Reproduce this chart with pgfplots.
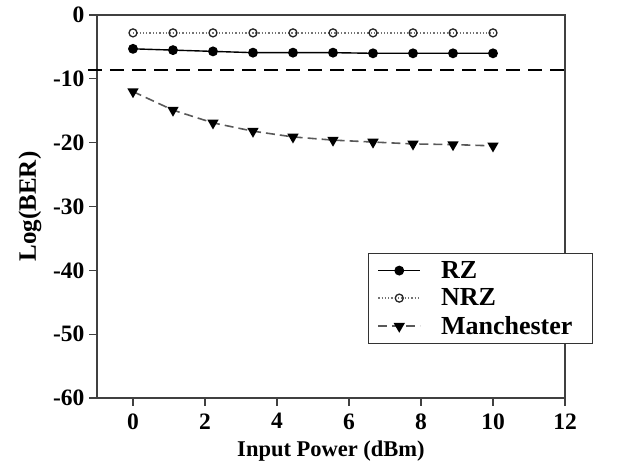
\documentclass[border=0pt]{standalone}
\usepackage{fontspec}
\setmainfont{Liberation Serif}
\usepackage{pgfplots}
\pgfplotsset{compat=1.18}
\begin{document}
\begin{tikzpicture}[x=1pt,y=1pt]
\begin{axis}[
  scale only axis, width=468pt, height=383pt,
  at={(0,0)}, anchor=south west,
  xmin=-1, xmax=12, ymin=-60, ymax=0,
  xtick={0,2,...,12}, ytick={-60,-50,...,0},
  tick align=outside, major tick length=8pt,
  tick style={black!75, line width=1.2pt},
  axis line style={black!75, line width=1.3pt},
  xtick pos=bottom, ytick pos=left,
  /pgf/number format/assume math mode=true,
  ticklabel style={font=\fontsize{23.5}{26}\selectfont\bfseries},
  xticklabel style={yshift=-4pt},
  yticklabel style={xshift=-1pt},
  xlabel={Input Power (dBm)}, ylabel={Log(BER)},
  xlabel style={font=\fontsize{22.5}{24}\selectfont\bfseries, yshift=-5pt},
  ylabel style={font=\fontsize{25}{27}\selectfont\bfseries, yshift=5pt},
  clip=false,
  legend cell align=left,
  legend style={at={(0.579,0.379)}, anchor=north west, draw=black!80, line width=1pt,
    font=\fontsize{26}{30}\selectfont\bfseries, inner xsep=9pt, inner ysep=6pt,
    row sep=5pt, nodes={inner ysep=2pt},
    /tikz/every odd column/.append style={column sep=18pt}},
  legend image code/.code={\draw[#1] (0pt,0pt) -- (42pt,0pt); \draw[#1,solid] plot coordinates {(21pt,0pt)};},
]
\addplot[black, line width=1.4pt, mark=*, mark size=4.2pt, mark options={fill=black}]
 coordinates {(0,-5.3) (1.111,-5.5) (2.222,-5.7) (3.333,-5.9) (4.444,-5.9) (5.556,-5.9) (6.667,-6.0) (7.778,-6.0) (8.889,-6.0) (10,-6.0)};
\addlegendentry{RZ}
\addplot[black!55, line width=1.3pt, dotted, mark=o, mark size=4pt, mark options={draw=black!85, fill=white, line width=1.3pt, solid}]
 coordinates {(0,-2.8) (1.111,-2.8) (2.222,-2.8) (3.333,-2.8) (4.444,-2.8) (5.556,-2.8) (6.667,-2.8) (7.778,-2.8) (8.889,-2.8) (10,-2.8)};
\addlegendentry{NRZ}
\addplot[black!65, line width=1.6pt, dash pattern=on 9pt off 5pt, mark=triangle*, mark size=5pt, mark options={rotate=180, fill=black, draw=black, solid}]
 coordinates {(0,-12.0) (1.111,-14.9) (2.222,-16.9) (3.333,-18.2) (4.444,-19.1) (5.556,-19.6) (6.667,-19.9) (7.778,-20.2) (8.889,-20.3) (10,-20.5)};
\addlegendentry{Manchester\rule{9pt}{0pt}}
\addplot[black, line width=1.4pt, dash pattern=on 14pt off 8pt, forget plot]
 coordinates {(-1.25,-8.6) (12,-8.6)};
\end{axis}
\path (-97pt,-63pt) rectangle (538pt,398pt);
\end{tikzpicture}
\end{document}
